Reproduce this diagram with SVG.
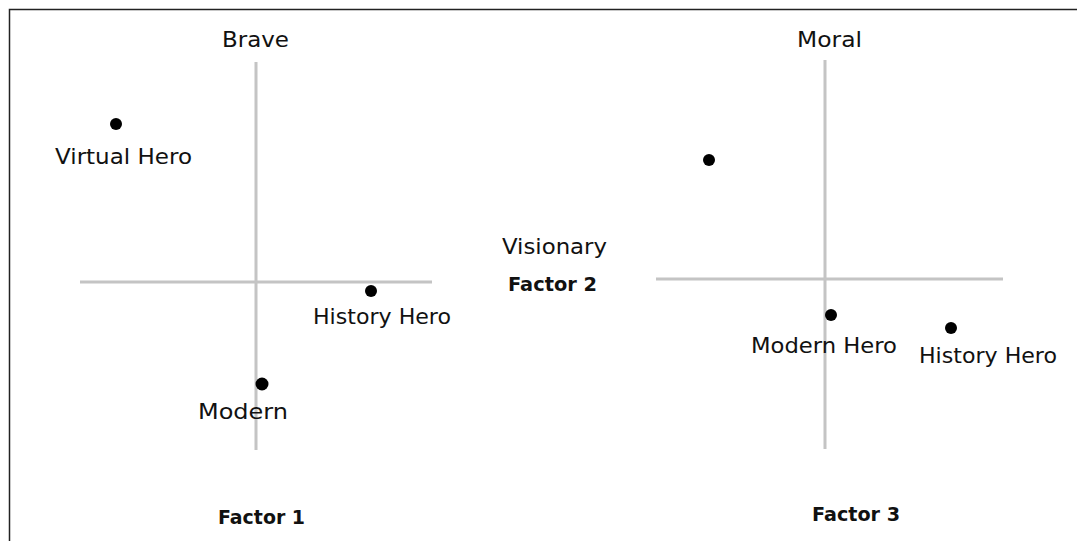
<svg xmlns="http://www.w3.org/2000/svg" width="1077" height="541" viewBox="0 0 1077 541">
<style>
.t{font-family:"DejaVu Sans","Liberation Sans",sans-serif;font-size:21px;fill:#111}
.b{font-family:"DejaVu Sans","Liberation Sans",sans-serif;font-size:20px;font-weight:bold;fill:#111}
.ax{stroke:#c4c4c4;stroke-width:3;fill:none}
.dot{fill:#000}
</style>
<rect width="1077" height="541" fill="#fff"/>
<path d="M9.5,541 V9.5 H1077" stroke="#222" stroke-width="1.5" fill="none"/>
<g id="axes">
<line class="ax" x1="256" y1="62" x2="256" y2="450"/>
<line class="ax" x1="80" y1="282" x2="432" y2="282"/>
<line class="ax" x1="825" y1="60" x2="825" y2="449"/>
<line class="ax" x1="656" y1="279" x2="1003" y2="279"/>
</g>
<g id="labels">
<text class="t" x="222" y="47" textLength="67" lengthAdjust="spacingAndGlyphs">Brave</text>
<text class="t" x="797" y="47" textLength="65" lengthAdjust="spacingAndGlyphs">Moral</text>
<text class="t" x="502" y="254" textLength="105" lengthAdjust="spacingAndGlyphs">Visionary</text>
<text class="b" x="508" y="291" textLength="89" lengthAdjust="spacingAndGlyphs">Factor 2</text>
<text class="b" x="218" y="524" textLength="87" lengthAdjust="spacingAndGlyphs">Factor 1</text>
<text class="b" x="812" y="521" textLength="88" lengthAdjust="spacingAndGlyphs">Factor 3</text>
</g>
<g id="virtual-hero-1">
<circle class="dot" cx="116" cy="124" r="6"/>
<text class="t" x="55" y="164" textLength="137" lengthAdjust="spacingAndGlyphs">Virtual Hero</text>
</g>
<g id="history-hero-1">
<circle class="dot" cx="371" cy="291" r="6"/>
<text class="t" x="313" y="324" textLength="138" lengthAdjust="spacingAndGlyphs">History Hero</text>
</g>
<g id="modern-1">
<circle class="dot" cx="262" cy="384" r="6.5"/>
<text class="t" x="198" y="419" textLength="90" lengthAdjust="spacingAndGlyphs">Modern</text>
</g>
<g id="point-3a">
<circle class="dot" cx="709" cy="160" r="6"/>
</g>
<g id="modern-hero-3">
<circle class="dot" cx="831" cy="315" r="6"/>
<text class="t" x="751" y="353" textLength="146" lengthAdjust="spacingAndGlyphs">Modern Hero</text>
</g>
<g id="history-hero-3">
<circle class="dot" cx="951" cy="328" r="6"/>
<text class="t" x="919" y="363" textLength="138" lengthAdjust="spacingAndGlyphs">History Hero</text>
</g>
</svg>
